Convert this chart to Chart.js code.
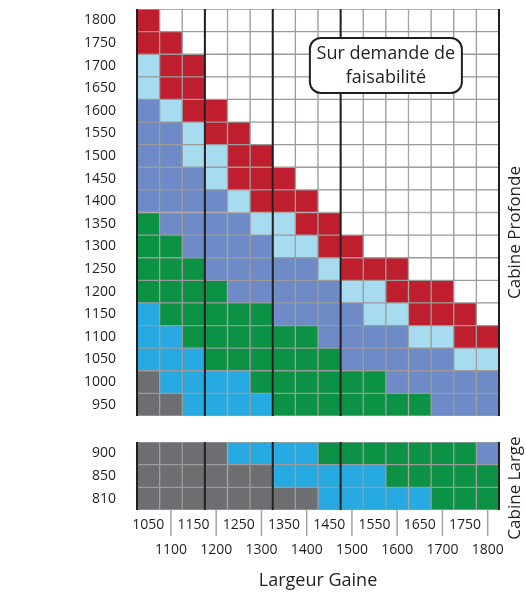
<!DOCTYPE html>
<html>
<head>
<meta charset="utf-8">
<script src="https://cdn.jsdelivr.net/npm/chart.js@4.4.1/dist/chart.umd.min.js"></script>
<style>
    html, body { margin: 0; padding: 0; background: #fff; }
    #wrap { position: relative; width: 526px; height: 592px; }
    #cTop { position: absolute; left: 0; top: 0; }
    #cBottom { position: absolute; left: 0; top: 418px; }
</style>
</head>
<body>
<div id="wrap">
    <canvas id="cTop" width="526" height="425"></canvas>
    <canvas id="cBottom" width="526" height="174"></canvas>
</div>
<script>
var largeurs = ["1050", "1100", "1150", "1200", "1250", "1300", "1350", "1400",
                "1450", "1500", "1550", "1600", "1650", "1700", "1750", "1800"];
var profondeurs = ["1800", "1750", "1700", "1650", "1600", "1550", "1500", "1450", "1400",
                   "1350", "1300", "1250", "1200", "1150", "1100", "1050", "1000", "950"];
var largesLignes = ["900", "850", "810"];

// une lettre par case, de 1050 a 1800
var grilleProfonde = [
    "RWWWWWWWWWWWWWWW", // 1800
    "RRWWWWWWWWWWWWWW", // 1750
    "LRRWWWWWWWWWWWWW", // 1700
    "LRRWWWWWWWWWWWWW", // 1650
    "PLRRWWWWWWWWWWWW", // 1600
    "PPLRRWWWWWWWWWWW", // 1550
    "PPLLRRWWWWWWWWWW", // 1500
    "PPPLRRRWWWWWWWWW", // 1450
    "PPPPLRRRWWWWWWWW", // 1400
    "GPPPPLLRRWWWWWWW", // 1350
    "GGPPPPLLRRWWWWWW", // 1300
    "GGGPPPPPLRRRWWWW", // 1250
    "GGGGPPPPPLLRRRWW", // 1200
    "CGGGGGPPPPLLRRRW", // 1150
    "CCGGGGGGPPPPLLRR", // 1100
    "CCCGGGGGGPPPPPLL", // 1050
    "KCCCCGGGGGGPPPPP", // 1000
    "KKCCCCGGGGGGGPPP"  // 950
];
var grilleLarge = [
    "KKKKCCCCGGGGGGGP", // 900
    "KKKKKKCCCCCGGGGG", // 850
    "KKKKKKKKCCCCCGGG"  // 810
];

var colonnesFortes = ["1200", "1350", "1500"];

var couleurs = {
    R: "#be1e2d",
    L: "#a7dcf0",
    P: "#6e8ac7",
    G: "#0b9244",
    C: "#27aae1",
    K: "#6d6e71",
    W: "#ffffff"
};

var police = "'Open Sans', 'Noto Sans', sans-serif";
var texte = "#231f20";

function makeDatasets(labels, grille) {
    // la premiere serie est en bas de la pile
    var n = grille.length;
    return grille.slice().reverse().map(function (ligne, i) {
        return {
            label: labels[n - 1 - i],
            data: largeurs.map(function () { return 1; }),
            backgroundColor: ligne.split("").map(function (c) { return couleurs[c]; }),
            borderColor: "#9b9b9b",
            borderWidth: 1,
            borderSkipped: false,
            barPercentage: 1,
            categoryPercentage: 1
        };
    });
}

function yAxis(labels) {
    var basEnHaut = labels.slice().reverse();
    return {
        stacked: true,
        min: 0,
        max: labels.length,
        grid: { display: false, drawTicks: false },
        border: { display: false },
        afterBuildTicks: function (scale) {
            scale.ticks = basEnHaut.map(function (l, i) { return { value: i + 0.5 }; });
        },
        afterFit: function (scale) {
            scale.width = 137;
            scale.paddingTop = 0;
            scale.paddingBottom = 0;
        },
        ticks: {
            autoSkip: false,
            padding: 21,
            color: texte,
            font: { family: police, size: 14 },
            callback: function (v, i) { return basEnHaut[i]; }
        }
    };
}

var cadrePlugin = {
    id: "cadre",
    afterDatasetsDraw: function (chart, args, opts) {
        var ctx = chart.ctx;
        var a = chart.chartArea;
        var xs = chart.scales.x;

        ctx.save();
        if (opts.separateurs) {
            ctx.strokeStyle = "#a3a3a3";
            ctx.lineWidth = 1.5;
            largeurs.forEach(function (l, i) {
                if (i % 2 === 0) return;
                var x = xs.getPixelForValue(i);
                ctx.beginPath();
                ctx.moveTo(x, a.bottom);
                ctx.lineTo(x, a.bottom + 26);
                ctx.stroke();
            });
        }

        var lignes = [a.left];
        colonnesFortes.forEach(function (l) {
            var i = largeurs.indexOf(l);
            lignes.push((xs.getPixelForValue(i - 1) + xs.getPixelForValue(i)) / 2);
        });
        lignes.push(a.right);
        ctx.strokeStyle = texte;
        ctx.lineWidth = 2;
        lignes.forEach(function (x) {
            ctx.beginPath();
            ctx.moveTo(x, a.top);
            ctx.lineTo(x, a.bottom);
            ctx.stroke();
        });

        ctx.fillStyle = texte;
        ctx.font = "17px " + police;
        ctx.textAlign = "center";
        ctx.textBaseline = "middle";
        ctx.translate(a.right + 16, (a.top + a.bottom) / 2 + opts.decalage);
        ctx.rotate(-Math.PI / 2);
        ctx.fillText(opts.titre, 0, 0);
        ctx.restore();

        if (opts.bulle) {
            var ys = chart.scales.y;
            var cx = (xs.getPixelForValue(10) + xs.getPixelForValue(11)) / 2;
            var cy = ys.getPixelForValue(15.5);
            var w = 152, h = 55;
            ctx.save();
            ctx.beginPath();
            ctx.roundRect(cx - w / 2, cy - h / 2, w, h, 11);
            ctx.fillStyle = "#fff";
            ctx.fill();
            ctx.lineWidth = 2;
            ctx.strokeStyle = texte;
            ctx.stroke();
            ctx.fillStyle = texte;
            ctx.font = "18px " + police;
            ctx.textAlign = "center";
            ctx.textBaseline = "middle";
            ctx.fillText(opts.bulle[0], cx, cy - 12);
            ctx.fillText(opts.bulle[1], cx, cy + 12);
            ctx.restore();
        }
    }
};

new Chart(document.getElementById("cTop"), {
    type: "bar",
    data: { labels: largeurs, datasets: makeDatasets(profondeurs, grilleProfonde) },
    options: {
        responsive: false,
        animation: false,
        devicePixelRatio: 1,
        layout: { padding: { top: 9, bottom: 9, left: 0, right: 27 } },
        plugins: {
            legend: { display: false },
            tooltip: { enabled: false },
            cadre: { titre: "Cabine Profonde", decalage: 20, bulle: ["Sur demande de", "faisabilité"] }
        },
        scales: {
            x: { stacked: true, display: false },
            y: yAxis(profondeurs)
        }
    },
    plugins: [cadrePlugin]
});

new Chart(document.getElementById("cBottom"), {
    type: "bar",
    data: { labels: largeurs, datasets: makeDatasets(largesLignes, grilleLarge) },
    options: {
        responsive: false,
        animation: false,
        devicePixelRatio: 1,
        layout: { padding: { top: 24, bottom: 0, left: 0, right: 27 } },
        plugins: {
            legend: { display: false },
            tooltip: { enabled: false },
            cadre: { titre: "Cabine Large", decalage: 12, separateurs: true }
        },
        scales: {
            x: {
                stacked: true,
                grid: { display: false, drawTicks: false },
                border: { display: false },
                afterFit: function (scale) { scale.height = 82; },
                ticks: {
                    autoSkip: false,
                    maxRotation: 0,
                    minRotation: 0,
                    padding: 3,
                    color: texte,
                    font: { family: police, size: 14, lineHeight: 1.74 },
                    callback: function (v, i) {
                        return i % 2 ? ["", largeurs[i]] : largeurs[i];
                    }
                },
                title: {
                    display: true,
                    text: "Largeur Gaine",
                    color: texte,
                    font: { family: police, size: 18 },
                    padding: { top: 0, bottom: 0 }
                }
            },
            y: yAxis(largesLignes)
        }
    },
    plugins: [cadrePlugin]
});
</script>
</body>
</html>
